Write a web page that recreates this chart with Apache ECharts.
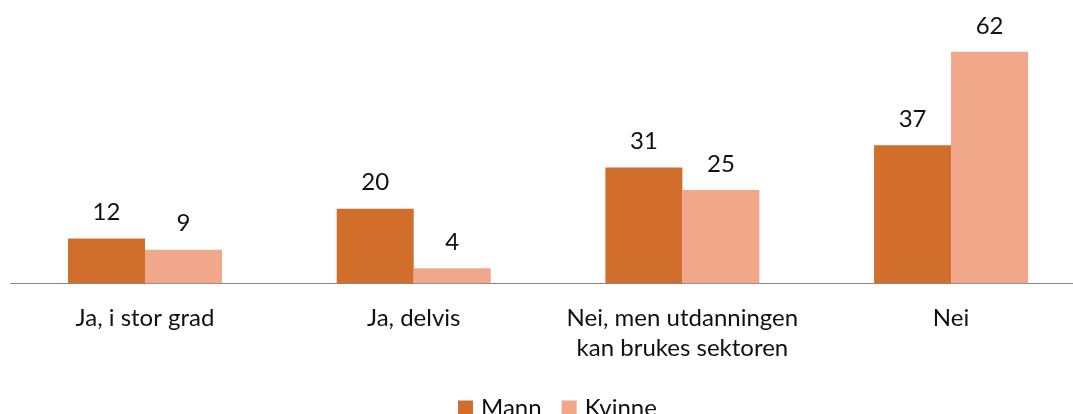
<!DOCTYPE html>
<html><head><meta charset="utf-8">
<script src="https://cdn.jsdelivr.net/npm/echarts@6/dist/echarts.min.js"></script>
<style>html,body{margin:0;padding:0;background:#fff}#c{width:1073px;height:414px}</style>
</head><body><div id="c"></div>
<script>
const categories = ['Ja, i stor grad', 'Ja, delvis', 'Nei, men utdanningen\nkan brukes sektoren', 'Nei'];
const seriesNames = ['Mann', 'Kvinne'];
const mann = [12, 20, 31, 37];
const kvinne = [9, 4, 25, 62];
const colors = ['#D26E2B', '#F1A78A'];
const FONT = 'Lato';
const chart = echarts.init(document.getElementById('c'));
const lbl = {show: true, position: 'top', distance: 14, color: '#111', fontSize: 24, fontFamily: FONT};
chart.setOption({
  animation: false,
  textStyle: {fontFamily: FONT},
  grid: {left: 10.7, width: 1074.7, top: 22, bottom: 414 - 283.3, outerBoundsMode: 'none', containLabel: false},
  legend: {
    data: seriesNames, top: 391, left: 453, itemWidth: 15, itemHeight: 15, itemGap: 20,
    icon: 'rect', textStyle: {fontSize: 24, color: '#111', fontFamily: FONT, padding: [0, 0, 0, 3]}
  },
  xAxis: {
    type: 'category', data: categories,
    axisLine: {lineStyle: {color: '#868686', width: 1}},
    axisTick: {show: false},
    axisLabel: {fontSize: 24, color: '#111', margin: 20, lineHeight: 30, interval: 0, fontFamily: FONT}
  },
  yAxis: {type: 'value', min: 0, max: 70, show: false, splitLine: {show: false}},
  series: [
    {name: seriesNames[0], type: 'bar', data: mann, barWidth: 77, barGap: '0%', itemStyle: {color: colors[0]}, label: lbl},
    {name: seriesNames[1], type: 'bar', data: kvinne, barWidth: 77, barGap: '0%', itemStyle: {color: colors[1]}, label: lbl}
  ]
});
</script></body></html>
